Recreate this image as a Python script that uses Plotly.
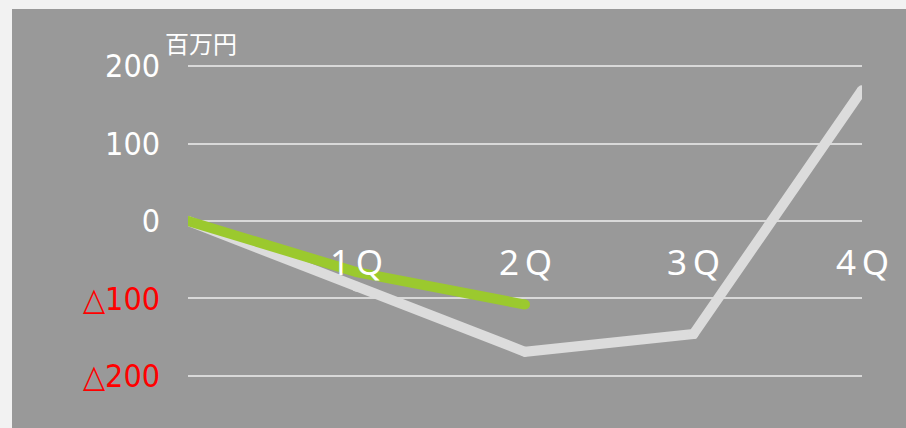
import plotly.graph_objects as go

# ---- data ----
x_index = [0, 1, 2, 3, 4]
x_labels = ["1\u2009Q", "2\u2009Q", "3\u2009Q", "4\u2009Q"]
x_label_pos = [1, 2, 3, 4]
series_gray = [0, -85, -169, -146, 169]
series_green = [0, -66, -108]
y_tickvals = [200, 100, 0, -100, -200]
y_ticktext = ["200", "100", "0", "△100", "△200"]
unit_label = "百万円"

RED = "#ff0000"

def fmt_tick(v, t):
    if v < 0:
        return f"<span style='color:{RED}'>{t}</span>"
    return t

fig = go.Figure()
fig.add_trace(go.Scatter(
    x=x_index, y=series_gray, mode="lines+markers",
    line=dict(color="#dcdcdc", width=10, shape="linear"),
    marker=dict(color="#dcdcdc", size=10, line=dict(width=0)),
    hoverinfo="skip", showlegend=False,
))
fig.add_trace(go.Scatter(
    x=x_index[:len(series_green)], y=series_green, mode="lines+markers",
    line=dict(color="#9bc92e", width=10),
    marker=dict(color="#9bc92e", size=10, line=dict(width=0)),
    hoverinfo="skip", showlegend=False,
))

W, H = 906, 428
ml, mr, mt, mb = 188, 44, 43, 29
pw = W - ml - mr
ph = H - mt - mb

annotations = []
for p, t in zip(x_label_pos, x_labels):
    annotations.append(dict(
        x=p, y=0, xref="x", yref="y", text=t, showarrow=False,
        xanchor="center", yanchor="middle", yshift=-40,
        font=dict(family="Noto Sans", size=35, color="white"),
    ))
annotations.append(dict(
    x=0, y=200, xref="paper", yref="y", text=unit_label, showarrow=False,
    xanchor="left", yanchor="bottom", xshift=-25, yshift=4,
    font=dict(family="Noto Sans CJK JP", size=24, color="white"),
))

panel_top_px = 9
panel_left_px = 12
fig.update_layout(
    width=W, height=H,
    margin=dict(l=ml, r=mr, t=mt, b=mb, pad=0),
    paper_bgcolor="#f2f2f2",
    plot_bgcolor="rgba(0,0,0,0)",
    shapes=[dict(
        type="rect", xref="paper", yref="paper", layer="below",
        x0=(panel_left_px - ml) / pw, x1=(W - ml + 5) / pw,
        y0=-(mb + 5) / ph, y1=(H - mb - panel_top_px) / ph,
        fillcolor="#999999", line=dict(width=0),
    )],
    xaxis=dict(
        range=[0, 4], showgrid=False, zeroline=False, showticklabels=False,
        showline=False, fixedrange=True,
    ),
    yaxis=dict(
        range=[-230, 230], tickvals=y_tickvals,
        ticktext=[fmt_tick(v, t) for v, t in zip(y_tickvals, y_ticktext)],
        showgrid=True, gridcolor="#d9d9d9", gridwidth=2,
        zeroline=True, zerolinecolor="#d9d9d9", zerolinewidth=2,
        showline=False, ticks="", ticklabelstandoff=27,
        tickfont=dict(family="DejaVu Sans Condensed", size=32, color="white"),
        fixedrange=True,
    ),
    annotations=annotations,
)

fig.write_html("out.html", config={"displayModeBar": False},
               post_script="document.body.style.margin='0';")
